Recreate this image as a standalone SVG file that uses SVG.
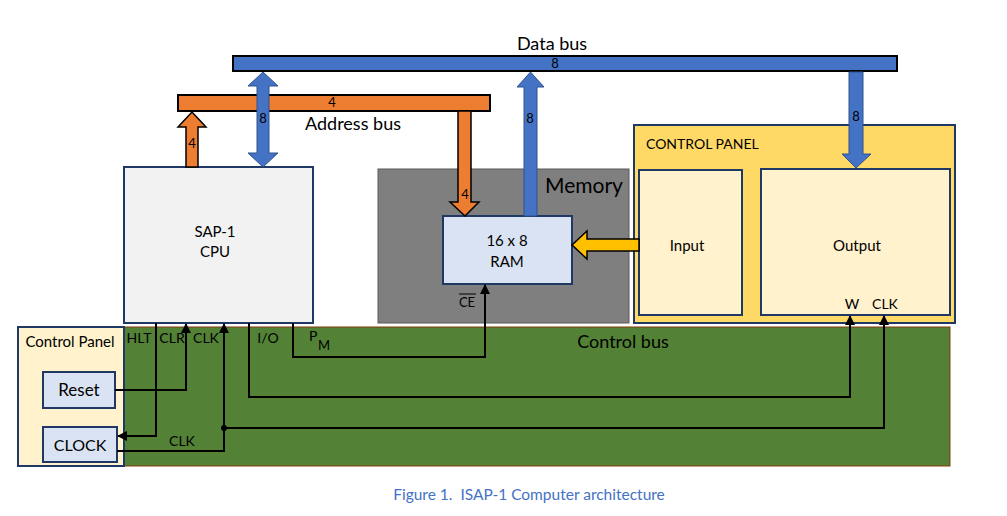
<svg xmlns="http://www.w3.org/2000/svg" width="1007" height="516" viewBox="0 0 1007 516">
  <style>
    text { font-family: Lato, "Liberation Sans", sans-serif; fill: #000; }
    .lbl { font-size: 15px; }
    .sm { font-size: 13px; }
    .sig { font-size: 14px; }
    .title { font-size: 18px; }
    .box { stroke: #1f3864; stroke-width: 2; }
    .wire { fill: none; stroke: #000; stroke-width: 2; }
    .bus-o { fill: #ed7d31; stroke: #000; stroke-width: 2; }
    .bus-b { fill: #4472c4; stroke: #000; stroke-width: 2; }
    .arr-b { fill: #4472c4; stroke: #2f528f; stroke-width: 1; }
    .arr-o { fill: #ed7d31; stroke: #000; stroke-width: 1.5; }
  </style>
  <defs>
    <marker id="tip" viewBox="0 0 10 10" refX="9" refY="5" markerWidth="5" markerHeight="5" orient="auto" markerUnits="strokeWidth">
      <path d="M0,0 L10,5 L0,10 Z" fill="#000"/>
    </marker>
  </defs>

  <rect width="1007" height="516" fill="#fff"/>

  <!-- Control bus background -->
  <g id="control-bus">
    <rect x="124" y="327" width="826" height="139" fill="#538135" stroke="#843c0c" stroke-width="1"/>
    <text x="623" y="348" text-anchor="middle" class="title">Control bus</text>
  </g>

  <!-- Memory area -->
  <g id="memory">
    <rect x="378" y="169" width="251" height="154" fill="#7f7f7f" stroke="#595959" stroke-width="1"/>
    <text x="584" y="193" text-anchor="middle" style="font-size:21px">Memory</text>
  </g>

  <!-- Buses -->
  <g id="data-bus">
    <rect x="233" y="56" width="664" height="15" class="bus-b"/>
    <text x="555" y="68" text-anchor="middle" class="sm">8</text>
    <text x="552" y="50" text-anchor="middle" class="title">Data bus</text>
  </g>
  <g id="address-bus">
    <rect x="178" y="95" width="312" height="16" class="bus-o"/>
    <text x="332" y="107" text-anchor="middle" class="sm">4</text>
    <text x="353" y="130" text-anchor="middle" class="title">Address bus</text>
  </g>

  <!-- CPU -->
  <g id="cpu">
    <rect x="124" y="167" width="189" height="156" fill="#f2f2f2" class="box"/>
    <text x="215" y="237" text-anchor="middle" class="lbl">SAP-1</text>
    <text x="215" y="257" text-anchor="middle" class="lbl">CPU</text>
  </g>

  <!-- RAM -->
  <g id="ram">
    <rect x="443" y="216" width="129" height="68" fill="#dae3f3" class="box"/>
    <text x="507" y="246" text-anchor="middle" class="lbl">16 x 8</text>
    <text x="507" y="267" text-anchor="middle" class="lbl">RAM</text>
    <text x="467" y="307" text-anchor="middle" class="sm">CE</text>
    <line x1="459" y1="294" x2="476" y2="294" stroke="#000" stroke-width="1"/>
  </g>

  <!-- Right control panel -->
  <g id="control-panel-io">
    <rect x="634" y="125" width="321" height="198" fill="#ffd966" class="box"/>
    <text x="646" y="149" class="sig">CONTROL PANEL</text>
  </g>
  <g id="input">
    <rect x="639" y="170" width="103" height="145" fill="#fff2cc" class="box"/>
    <text x="687" y="251" text-anchor="middle" class="lbl">Input</text>
  </g>
  <g id="output">
    <rect x="761" y="169" width="189" height="146" fill="#fff2cc" class="box"/>
    <text x="857" y="251" text-anchor="middle" class="lbl">Output</text>
    <text x="852" y="309" text-anchor="middle" class="sig">W</text>
    <text x="885" y="309" text-anchor="middle" class="sig">CLK</text>
  </g>

  <!-- Left control panel -->
  <g id="control-panel">
    <rect x="18" y="327" width="106" height="139" fill="#fff2cc" class="box"/>
    <text x="70" y="347" text-anchor="middle" style="font-size:15px">Control Panel</text>
  </g>
  <g id="reset">
    <rect x="43" y="372" width="72" height="36" fill="#dae3f3" class="box"/>
    <text x="79" y="396" text-anchor="middle" style="font-size:17px">Reset</text>
  </g>
  <g id="clock">
    <rect x="43" y="427" width="74" height="35" fill="#dae3f3" class="box"/>
    <text x="80" y="451" text-anchor="middle" style="font-size:16px">CLOCK</text>
  </g>

  <!-- Bus arrows -->
  <g id="bus-arrows">
    <polygon class="arr-o" points="186,167 186,127 178,127 192,112 206,127 198,127 198,167"/>
    <text x="192" y="148" text-anchor="middle" class="sm">4</text>
    <polygon class="arr-b" points="263,72 278,86 269,86 269,153 278,153 263,167 248,153 257,153 257,86 248,86"/>
    <text x="263" y="123" text-anchor="middle" class="sm">8</text>
    <polygon class="arr-o" points="458,111 458,202 450,202 465,216 479,202 471,202 471,111"/>
    <text x="465" y="199" text-anchor="middle" class="sm">4</text>
    <polygon class="arr-b" points="524,216 524,87 517,87 530.5,72 544,87 537,87 537,216"/>
    <text x="530" y="123" text-anchor="middle" class="sm">8</text>
    <polygon class="arr-b" points="849,72 849,154 842,154 856,168 871,154 863,154 863,72"/>
    <text x="856" y="121" text-anchor="middle" class="sm">8</text>
    <polygon points="639,239 587,239 587,231 572,245 587,259 587,251 639,251" fill="#ffc000" stroke="#000" stroke-width="1.5"/>
  </g>

  <!-- Control signals -->
  <g id="control-lines">
    <text x="139" y="343" text-anchor="middle" class="sig">HLT</text>
    <text x="172" y="343" text-anchor="middle" class="sig">CLR</text>
    <text x="206" y="343" text-anchor="middle" class="sig">CLK</text>
    <text x="268" y="343" text-anchor="middle" class="sig">I/O</text>
    <text x="309" y="341" class="sig">P</text>
    <text x="318" y="350" class="sm">M</text>
    <text x="182" y="446" text-anchor="middle" class="sig">CLK</text>

    <polyline class="wire" points="156,323 156,436 118,436" marker-end="url(#tip)"/>
    <polyline class="wire" points="115,390 186,390 186,324" marker-end="url(#tip)"/>
    <polyline class="wire" points="117,451 224,451 224,324" marker-end="url(#tip)"/>
    <polyline class="wire" points="224,428 884,428 884,316" marker-end="url(#tip)"/>
    <circle cx="224" cy="428" r="3" fill="#000"/>
    <polyline class="wire" points="249,323 249,397 850,397 850,316" marker-end="url(#tip)"/>
    <polyline class="wire" points="293,323 293,357 485,357 485,285" marker-end="url(#tip)"/>
  </g>

  <text x="529" y="500" text-anchor="middle" xml:space="preserve" style="font-size:15.5px;fill:#4472c4">Figure 1.  ISAP-1 Computer architecture</text>
</svg>
